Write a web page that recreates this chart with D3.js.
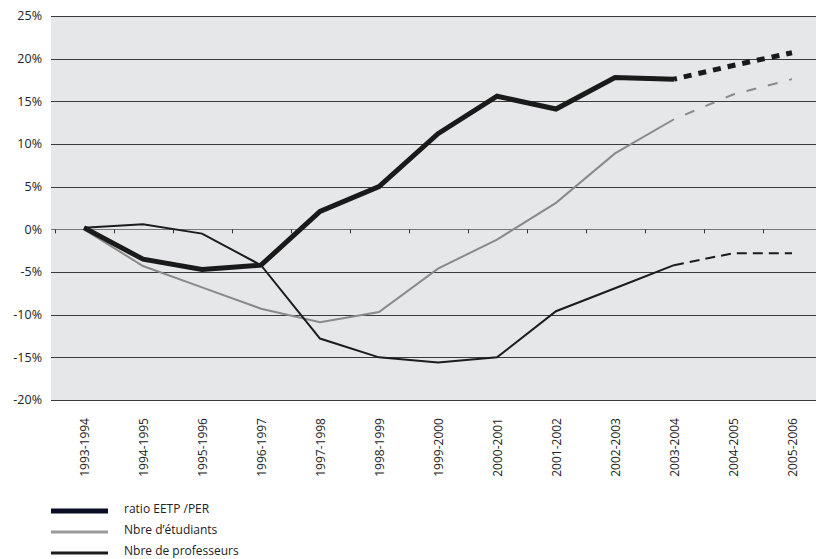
<!DOCTYPE html>
<html><head><meta charset="utf-8">
<script src="https://cdn.jsdelivr.net/npm/d3@7"></script>
<style>body{margin:0;background:#fff}svg{display:block}text{font-family:"Open Sans",sans-serif}</style>
</head><body><svg id="c" width="816" height="559"></svg>
<script>
const categories = ["1993-1994","1994-1995","1995-1996","1996-1997","1997-1998","1998-1999","1999-2000","2000-2001","2001-2002","2002-2003","2003-2004","2004-2005","2005-2006"];
const ratio = [0.2,-3.5,-4.7,-4.2,2.1,5.0,11.2,15.6,14.1,17.8,17.6,19.2,20.7];
const etudiants = [0,-4.3,-6.8,-9.3,-10.9,-9.7,-4.6,-1.2,3.1,8.9,12.9,15.8,17.6];
const professeurs = [0.2,0.6,-0.5,-4.2,-12.8,-15.0,-15.6,-15.0,-9.6,-6.9,-4.2,-2.8,-2.8];
const yTicks = [25,20,15,10,5,0,-5,-10,-15,-20];
const lastActual = 10;

const svg = d3.select("#c");
const x = d3.scaleBand().domain(categories).range([54.5,821.5]);
const y = d3.scaleLinear().domain([-20,25]).range([400,16]);
const cx = d => x(d) + x.bandwidth()/2;
const plotL = 51, plotR = 816;

svg.append("rect").attr("x",plotL).attr("y",y(25)).attr("width",plotR-plotL).attr("height",y(-20)-y(25)).attr("fill","#e6e7e9");

svg.append("g").selectAll("line").data(yTicks).join("line")
  .attr("x1",plotL).attr("x2",plotR).attr("y1",d=>Math.round(y(d))+0.5).attr("y2",d=>Math.round(y(d))+0.5)
  .attr("stroke",d=>d===0?"#777":"#3a3a3a").attr("stroke-width",1);

svg.append("g").selectAll("text").data(yTicks).join("text")
  .attr("x",42).attr("y",d=>y(d)).attr("dy","0.35em").attr("text-anchor","end")
  .attr("font-size",12.5).attr("fill","#222").text(d=>d+"%");

svg.append("g").selectAll("line").data(categories.map(c=>x(c))).join("line")
  .attr("x1",d=>Math.round(d)+0.5).attr("x2",d=>Math.round(d)+0.5)
  .attr("y1",y(0)).attr("y2",y(0)+4).attr("stroke","#333");

svg.append("g").selectAll("text").data(categories).join("text")
  .attr("transform",d=>`translate(${cx(d)+4.5},418) rotate(-90)`)
  .attr("text-anchor","end").attr("font-size",12).attr("fill","#222").text(d=>d);

const line = d3.line().x(d=>cx(d.c)).y(d=>y(d.v));
function draw(vals, color, w, dash, offset){
  const pts = vals.map((v,i)=>({c:categories[i],v}));
  svg.append("path").attr("d",line(pts.slice(0,lastActual+1))).attr("fill","none")
    .attr("stroke",color).attr("stroke-width",w).attr("stroke-linejoin","miter");
  svg.append("path").attr("d",line(pts.slice(lastActual))).attr("fill","none")
    .attr("stroke",color).attr("stroke-width",w).attr("stroke-dasharray",dash).attr("stroke-dashoffset",offset);
}
draw(etudiants,"#8a8a8a",2,"10,12",10);
draw(professeurs,"#1c1c1c",2,"10,6",0);
draw(ratio,"#1a1a1a",5,"8,7",5);

const legend = [
  {label:"ratio EETP /PER", color:"#0a0e24", w:5, y:511},
  {label:"Nbre d\u2019étudiants", color:"#999", w:3, y:532},
  {label:"Nbre de professeurs", color:"#1c1c1c", w:3, y:553}
];
const lg = svg.append("g").selectAll("g").data(legend).join("g");
lg.append("line").attr("x1",51).attr("x2",108).attr("y1",d=>d.y).attr("y2",d=>d.y)
  .attr("stroke",d=>d.color).attr("stroke-width",d=>d.w);
lg.append("text").attr("x",124).attr("y",d=>d.y-2).attr("dy","0.35em").attr("font-size",12).attr("fill","#222").text(d=>d.label);
</script></body></html>
